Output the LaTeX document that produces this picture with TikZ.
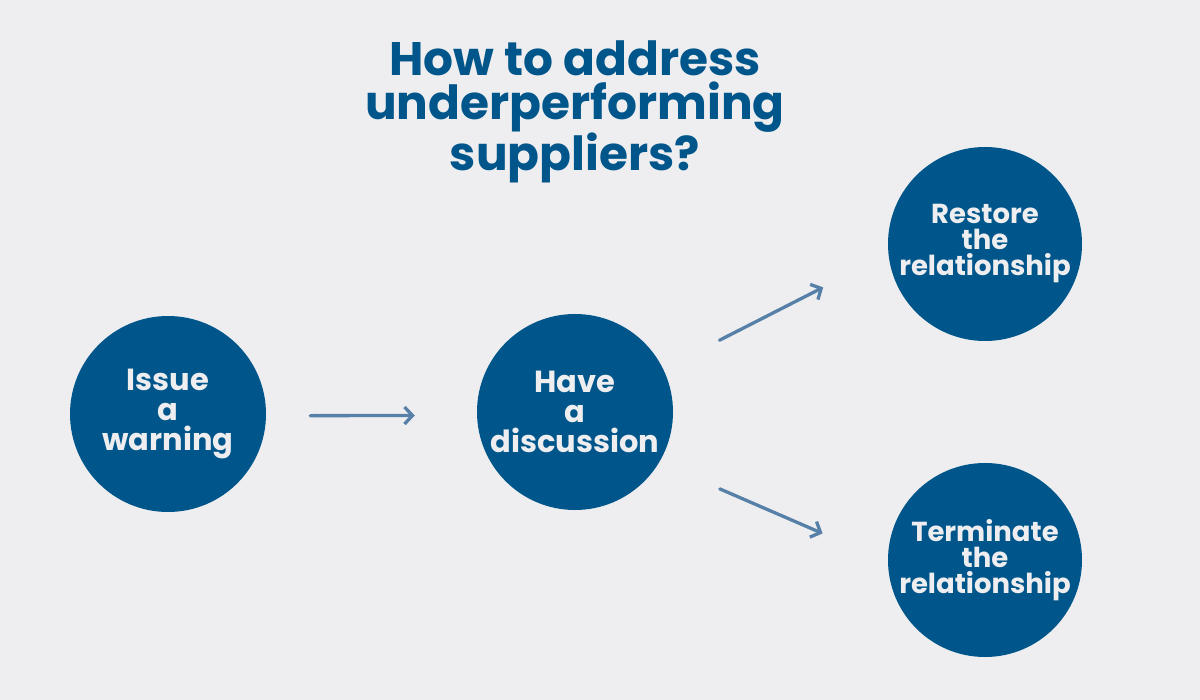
\documentclass[tikz,border=0pt]{standalone}
\usepackage{fontspec}
\setmainfont{Poppins}
\usetikzlibrary{arrows.meta}
\definecolor{bluedark}{RGB}{0,86,138}
\definecolor{bluelight}{RGB}{86,128,168}
\definecolor{paper}{RGB}{238,238,240}

\begin{document}
\begin{tikzpicture}[x = 1pt, y = -1pt, % one unit per pixel, y going down
        > = {Straight Barb[length = 8pt, width = 17pt]}, % arrow head style
        semithick % line style
    ]

    \tikzstyle{stage}=[circle, fill = bluedark, text = paper, inner sep = 0pt,
    minimum size = 196pt, align = center,
    font = \bfseries\fontsize{30.5}{30}\selectfont]
    \tikzstyle{outcome}=[stage, minimum size = 194pt,
    font = \bfseries\fontsize{27.5}{26}\selectfont]
    \tikzstyle{link}=[->, draw = bluelight, line width = 3.3pt, line cap = round]

    \fill[paper] (0,0) rectangle (1200,700);
    \useasboundingbox (0,0) rectangle (1200,700);

    \node[text = bluedark, align = center,
    font = \bfseries\fontsize{47}{44}\selectfont] (title) at (575,112)
    {How to address\\underperforming\\suppliers?};

    \node[stage] (warn) at (168,414) {Issue\\a\\warning};
    \node[stage] (disc) at (575,412) {Have\\a\\discussion};
    \node[outcome] (restore) at (985,244) {Restore\\the\\relationship};
    \node[outcome] (terminate) at (985,560) {Terminate\\the\\relationship};

    \draw[link, shorten <= 44pt, shorten >= 62pt] (warn.-1) -- (disc.182);
    \draw[link, shorten <= 63pt, shorten >= 73pt] (disc.26) -- (restore.186);
    \draw[link, shorten <= 66pt, shorten >= 71pt] (disc.-31) -- (terminate.181);
\end{tikzpicture}
\end{document}
